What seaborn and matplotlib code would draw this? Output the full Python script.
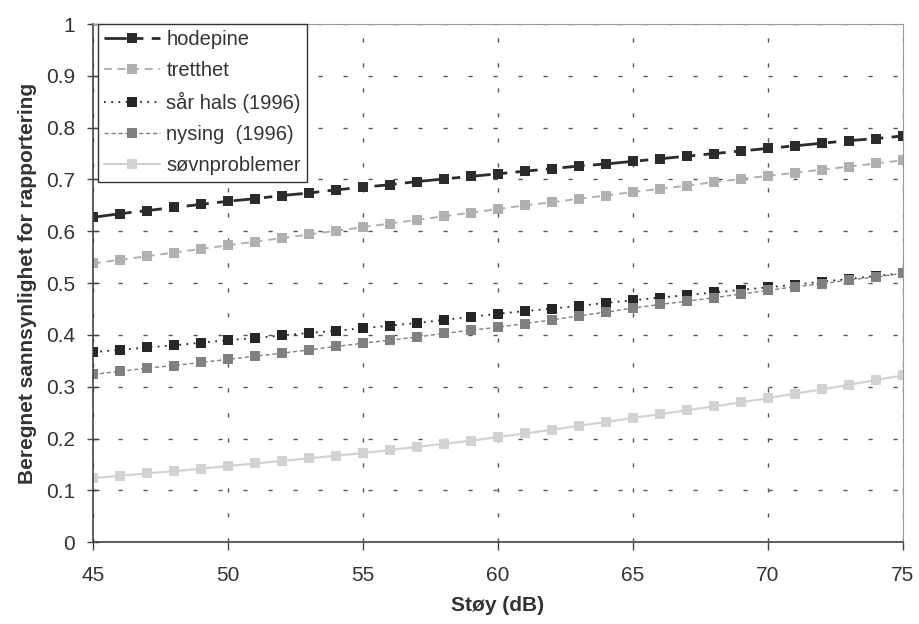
import numpy as np
import pandas as pd
import matplotlib
matplotlib.use("Agg")
import matplotlib.pyplot as plt
import seaborn as sns

# noise level (dB), one point per dB
stoy = list(range(45, 76))

hodepine = [0.627, 0.634, 0.640, 0.646, 0.652, 0.658, 0.663, 0.669, 0.674, 0.680, 0.685,
            0.690, 0.696, 0.701, 0.706, 0.711, 0.716, 0.721, 0.726, 0.730, 0.735,
            0.740, 0.745, 0.750, 0.755, 0.760, 0.765, 0.770, 0.775, 0.779, 0.784]
tretthet = [0.538, 0.545, 0.552, 0.559, 0.566, 0.573, 0.580, 0.587, 0.594, 0.601, 0.608,
            0.615, 0.622, 0.629, 0.636, 0.643, 0.650, 0.656, 0.663, 0.669, 0.676,
            0.682, 0.688, 0.695, 0.701, 0.707, 0.713, 0.719, 0.725, 0.731, 0.737]
sar_hals = [0.367, 0.371, 0.376, 0.380, 0.385, 0.390, 0.394, 0.399, 0.404, 0.408, 0.413,
            0.418, 0.423, 0.429, 0.435, 0.441, 0.446, 0.451, 0.456, 0.462, 0.467,
            0.472, 0.477, 0.482, 0.487, 0.492, 0.497, 0.503, 0.508, 0.514, 0.519]
nysing = [0.324, 0.330, 0.336, 0.341, 0.347, 0.353, 0.359, 0.365, 0.371, 0.378, 0.384,
          0.390, 0.396, 0.403, 0.409, 0.415, 0.422, 0.429, 0.437, 0.444, 0.452,
          0.459, 0.465, 0.472, 0.479, 0.486, 0.493, 0.499, 0.506, 0.512, 0.519]
sovn = [0.124, 0.128, 0.133, 0.137, 0.142, 0.147, 0.152, 0.157, 0.162, 0.167, 0.172,
        0.178, 0.184, 0.190, 0.196, 0.203, 0.210, 0.217, 0.225, 0.232, 0.240,
        0.247, 0.255, 0.262, 0.270, 0.278, 0.287, 0.295, 0.304, 0.313, 0.322]

labels = ["hodepine", "tretthet", "sår hals (1996)", "nysing  (1996)", "søvnproblemer"]
series = [hodepine, tretthet, sar_hals, nysing, sovn]
colors = ["#2b2b2b", "#b0b0b0", "#262626", "#808080", "#d2d2d2"]
dashes = [(0, (8, 3, 3, 3)), (0, (4, 3)), (0, (1, 3)), (0, (3, 2)), "-"]
widths = [2.0, 1.4, 1.3, 1.0, 1.6]

df = pd.DataFrame({"Støy": stoy * len(series),
                   "verdi": sum(series, []),
                   "serie": np.repeat(labels, len(stoy))})

sns.set_style("white")
plt.rcParams["font.family"] = ["Liberation Sans", "DejaVu Sans"]

fig = plt.figure(figsize=(9.2, 6.24), dpi=100)
ax = fig.add_axes([0.101, 0.131, 0.8805, 0.8305])

for lab, col, ls, lw in zip(labels, colors, dashes, widths):
    sns.lineplot(data=df[df["serie"] == lab], x="Støy", y="verdi", color=col,
                 linestyle=ls, linewidth=lw, marker="s", markersize=6.5,
                 markeredgewidth=0, label=lab, ax=ax)

ax.set_xlim(45, 75)
ax.set_ylim(0, 1)
ax.set_xticks(range(45, 76, 5))
ax.set_yticks(np.arange(0, 1.01, 0.1))
ax.set_yticklabels(["0"] + [f"{v:.1f}" for v in np.arange(0.1, 0.95, 0.1)] + ["1"])
ax.grid(True, color="#555555", linestyle=(0, (3, 15)), linewidth=1.0)
ax.set_axisbelow(True)

for side in ["left", "bottom"]:
    ax.spines[side].set_color("#444444")
    ax.spines[side].set_linewidth(1.2)
for side in ["top", "right"]:
    ax.spines[side].set_color("#999999")
    ax.spines[side].set_linestyle((0, (1, 1)))
    ax.spines[side].set_linewidth(0.8)

ax.tick_params(axis="y", direction="inout", length=8, width=1, color="#444444",
               labelsize=15, pad=9, labelcolor="#333333", left=True)
ax.tick_params(axis="x", direction="out", length=6, width=1, color="#444444",
               labelsize=15, pad=11, labelcolor="#333333", bottom=True)

ax.set_xlabel("Støy (dB)", fontsize=15, fontweight="bold", color="#333333", labelpad=8)
ax.set_ylabel("Beregnet sannsynlighet for rapportering", fontsize=15,
              fontweight="bold", color="#333333", labelpad=6)

leg = ax.legend(loc="upper left", bbox_to_anchor=(0.006, 1.0), fontsize=14.5,
                frameon=True, fancybox=False, framealpha=1, edgecolor="#333333",
                handlelength=2.8, handletextpad=0.3, borderpad=0.3,
                labelspacing=0.6, borderaxespad=0)
leg.get_frame().set_linewidth(1.0)
for t in leg.get_texts():
    t.set_color("#333333")

fig.savefig("out.png", dpi=100)
